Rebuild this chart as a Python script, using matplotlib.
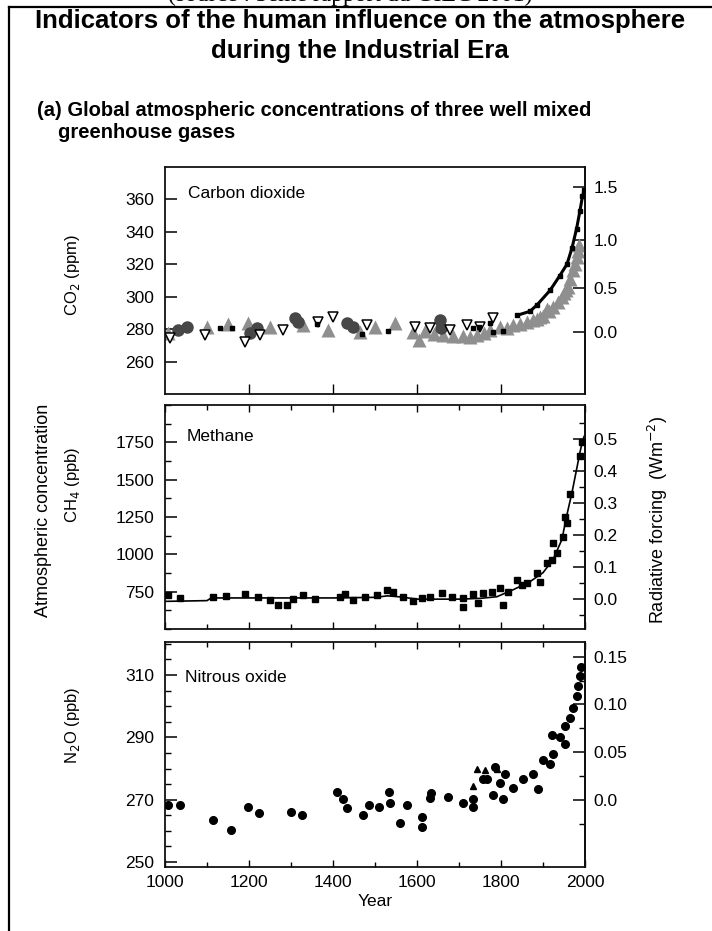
import matplotlib
matplotlib.use("Agg")
import matplotlib.pyplot as plt
import numpy as np
from matplotlib.lines import Line2D
from matplotlib.ticker import MultipleLocator, FixedLocator

plt.rcParams['font.family'] = ['Liberation Sans', 'DejaVu Sans']

# --- CO2 (ppm) ---
co2_tri_year = [1007, 1100, 1151, 1198, 1250, 1329, 1389, 1464, 1500, 1548, 1591, 1605,
                1620, 1640, 1662, 1686, 1710, 1725, 1743, 1760, 1774, 1798, 1815, 1829,
                1845, 1862, 1875, 1885, 1893, 1900, 1909, 1915, 1924, 1935, 1945, 1950,
                1955, 1960, 1965, 1971, 1975, 1980, 1983, 1986]
co2_tri_ppm = [277.8, 281.5, 283.3, 284.0, 281.5, 282.6, 279.6, 278.5, 281.5, 284.0, 278.5, 273.5,
               279.0, 277.0, 276.6, 275.5, 275.5, 275.0, 276.6, 277.5, 279.6, 281.5, 281.0, 282.6,
               283.0, 284.5, 285.5, 286.0, 287.3, 288.0, 292.7, 291.0, 293.7, 297.0, 300.0, 302.0,
               304.0, 306.0, 311.0, 316.4, 320.0, 324.4, 328.0, 331.8]
co2_circ_year = [1031, 1052, 1202, 1218, 1310, 1317, 1433, 1448, 1655, 1657]
co2_circ_ppm = [279.6, 281.5, 277.8, 280.9, 287.0, 284.5, 284.0, 281.5, 285.8, 280.9]
co2_open_year = [1012, 1095, 1190, 1226, 1281, 1364, 1400, 1480, 1595, 1631, 1679, 1719, 1750, 1781]
co2_open_ppm = [274.7, 276.6, 272.3, 276.6, 279.6, 284.5, 287.6, 282.6, 281.5, 280.9, 279.6, 282.6, 281.5, 287.0]
co2_dot_year = [1130, 1160, 1362, 1470, 1530, 1734, 1748, 1774, 1780, 1805]
co2_dot_ppm = [281.0, 281.0, 283.0, 277.0, 279.0, 280.9, 281.5, 284.0, 278.5, 279.0]
co2_line_year = [1838, 1869, 1886, 1917, 1940, 1957, 1969, 1980, 1988, 1994, 1998]
co2_line_ppm = [288.5, 291.0, 295.0, 304.0, 313.0, 320.0, 330.0, 342.0, 353.0, 362.0, 366.0]

# --- CH4 (ppb) ---
ch4_sq_year = [1007, 1036, 1114, 1145, 1190, 1222, 1250, 1269, 1290, 1305, 1329, 1357,
               1417, 1429, 1448, 1476, 1505, 1529, 1543, 1567, 1590, 1612, 1631, 1659,
               1683, 1710, 1710, 1733, 1745, 1757, 1779, 1798, 1805, 1817, 1838, 1850,
               1862, 1886, 1893, 1909, 1921, 1924, 1933, 1948, 1952, 1957, 1964, 1988, 1993]
ch4_sq_ppb = [730, 710, 716, 723, 737, 716, 696, 663, 663, 703, 730, 703,
              716, 737, 696, 716, 730, 763, 750, 716, 690, 710, 716, 743,
              716, 710, 649, 737, 676, 743, 750, 777, 663, 750, 830, 797,
              810, 877, 817, 945, 965, 1079, 1012, 1119, 1253, 1213, 1401, 1656, 1750]
ch4_line_year = [1000, 1100, 1110, 1400, 1500, 1530, 1560, 1600, 1700, 1750, 1790, 1829,
                 1869, 1900, 1924, 1945, 1956, 1969, 1980, 1988, 1994, 1998]
ch4_line_ppb = [685, 690, 708, 708, 712, 722, 715, 700, 700, 705, 716, 763,
                817, 877, 965, 1099, 1253, 1414, 1569, 1683, 1760, 1790]

# --- N2O (ppb) ---
n2o_year = [1007, 1036, 1114, 1157, 1198, 1224, 1300, 1327, 1409, 1424, 1434, 1471,
            1486, 1510, 1534, 1535, 1560, 1577, 1612, 1612, 1634, 1631, 1674, 1710,
            1733, 1733, 1757, 1781, 1798, 1805, 1810, 1767, 1786, 1829, 1852, 1876,
            1888, 1900, 1917, 1924, 1921, 1940, 1952, 1952, 1964, 1971, 1980, 1983,
            1988, 1990]
n2o_ppb = [268.4, 268.4, 263.4, 260.3, 267.5, 265.6, 265.9, 265.0, 272.5, 270.3, 267.2, 265.0,
           268.4, 267.5, 272.5, 269.0, 262.5, 268.4, 264.4, 261.3, 272.2, 270.6, 271.0, 269.0,
           270.3, 267.5, 276.6, 271.6, 275.3, 270.3, 278.1, 276.6, 280.6, 273.8, 276.6, 278.4,
           273.4, 282.8, 281.6, 284.7, 290.6, 290.0, 287.8, 293.8, 296.3, 299.4, 303.4, 306.6,
           309.7, 312.5]
n2o_tri_year = [1733, 1743, 1762, 1790]
n2o_tri_ppb = [274.4, 279.7, 279.5, 280.0]

W, H = 712, 931
fig = plt.figure(figsize=(W / 100, H / 100), dpi=100)


def box(top, bottom):
    return [165 / W, 1 - bottom / H, 420 / W, (bottom - top) / H]


ax1 = fig.add_axes(box(167, 394))
ax2 = fig.add_axes(box(405, 629))
ax3 = fig.add_axes(box(642, 867))

# CO2 panel
ax1.plot(co2_tri_year, co2_tri_ppm, '^', color='#8f8f8f', ms=10, mec='none', zorder=2)
ax1.plot(co2_circ_year, co2_circ_ppm, 'o', color='#474747', ms=9, mec='none', zorder=3)
ax1.plot(co2_open_year, co2_open_ppm, 'v', mfc='white', mec='black', ms=7.5, mew=1.1, zorder=4)
ax1.plot(co2_dot_year, co2_dot_ppm, 's', color='black', ms=2.5, zorder=5)
ax1.plot(co2_line_year, co2_line_ppm, '-', color='black', lw=2.2, zorder=5)
ax1.plot(co2_line_year, co2_line_ppm, 's', color='black', ms=3, zorder=5)
ax1.set_ylim(240, 380)
ax1.yaxis.set_major_locator(FixedLocator([260, 280, 300, 320, 340, 360]))
sec1 = ax1.secondary_yaxis('right', functions=(lambda c: 5.35 * np.log(np.clip(c, 1, None) / 278.0),
                                                lambda f: 278.0 * np.exp(f / 5.35)))
sec1.set_yticks([0.0, 0.5, 1.0, 1.5])
sec1.set_yticklabels(['0.0', '0.5', '1.0', '1.5'])

# CH4 panel
ax2.plot(ch4_line_year, ch4_line_ppb, '-', color='black', lw=1.2, zorder=2)
ax2.plot(ch4_sq_year, ch4_sq_ppb, 's', color='black', ms=5, zorder=3)
ax2.set_ylim(500, 2000)
ax2.yaxis.set_major_locator(FixedLocator([750, 1000, 1250, 1500, 1750]))
ax2.yaxis.set_minor_locator(MultipleLocator(125))
sec2 = ax2.secondary_yaxis('right', functions=(lambda m: (m - 700) / 2140.0,
                                                lambda f: 700 + 2140.0 * f))
sec2.set_yticks([0.0, 0.1, 0.2, 0.3, 0.4, 0.5])
sec2.set_yticklabels(['0.0', '0.1', '0.2', '0.3', '0.4', '0.5'])
sec2.yaxis.set_minor_locator(FixedLocator([-0.05, 0.05, 0.15, 0.25, 0.35, 0.45, 0.55]))

# N2O panel
ax3.plot(n2o_year, n2o_ppb, 'o', color='black', ms=5.5, zorder=3)
ax3.plot(n2o_tri_year, n2o_tri_ppb, '^', color='black', ms=5, zorder=3)
ax3.set_ylim(248.4, 320.6)
ax3.yaxis.set_major_locator(FixedLocator([250, 270, 290, 310]))
ax3.yaxis.set_minor_locator(MultipleLocator(5))
sec3 = ax3.secondary_yaxis('right', functions=(lambda n: (n - 270) * 0.00327,
                                                lambda f: 270 + f / 0.00327))
sec3.set_yticks([0.0, 0.05, 0.10, 0.15])
sec3.set_yticklabels(['0.0', '0.05', '0.10', '0.15'])
sec3.yaxis.set_minor_locator(FixedLocator([-0.025, 0.025, 0.075, 0.125]))

for ax in (ax1, ax2, ax3):
    ax.set_xlim(1000, 2000)
    for s in ax.spines.values():
        s.set_linewidth(1.3)
        s.set_color('#111111')
    ax.tick_params(axis='y', which='major', direction='in', length=8.5, width=1.1,
                   labelsize=12.5, pad=8, right=False)
    ax.tick_params(axis='y', which='minor', direction='in', length=4.5, width=1.0, right=False)
    ax.tick_params(axis='x', which='both', direction='in', width=1.0, labelsize=12.5)

for sec in (sec1, sec2, sec3):
    sec.spines['right'].set_linewidth(1.3)
    sec.tick_params(axis='y', which='major', direction='in', length=8.5, width=1.1,
                    labelsize=12.5, pad=6)
    sec.tick_params(axis='y', which='minor', direction='in', length=4.5, width=1.0)

ax1.xaxis.set_major_locator(FixedLocator([1200, 1400, 1600, 1800]))
ax1.tick_params(axis='x', length=7, labelbottom=False)

for ax in (ax2, ax3):
    ax.xaxis.set_major_locator(MultipleLocator(200))
    ax.xaxis.set_minor_locator(MultipleLocator(100))
    ax.tick_params(axis='x', which='major', length=5, top=True)
    ax.tick_params(axis='x', which='minor', length=3.5, top=True)
ax2.tick_params(axis='x', labelbottom=False)
ax3.tick_params(axis='x', which='major', pad=6)
ax3.set_xlabel('Year', fontsize=12.5, labelpad=3)

# panel names
ax1.text(0.055, 0.885, 'Carbon dioxide', transform=ax1.transAxes, fontsize=12.5, va='center')
ax2.text(0.052, 0.86, 'Methane', transform=ax2.transAxes, fontsize=12.5, va='center')
ax3.text(0.048, 0.84, 'Nitrous oxide', transform=ax3.transAxes, fontsize=12.5, va='center')

# y labels
fig.text(72 / W, 1 - 275 / H, 'CO$_2$ (ppm)', rotation=90, ha='center', va='center', fontsize=12)
fig.text(72 / W, 1 - 485 / H, 'CH$_4$ (ppb)', rotation=90, ha='center', va='center', fontsize=12)
fig.text(72 / W, 1 - 725 / H, 'N$_2$O (ppb)', rotation=90, ha='center', va='center', fontsize=12)
fig.text(44 / W, 1 - 510 / H, 'Atmospheric concentration', rotation=90, ha='center',
         va='center', fontsize=13)
fig.text(658 / W, 1 - 520 / H, 'Radiative forcing  (Wm$^{-2}$)', rotation=90, ha='center',
         va='center', fontsize=13)

# titles
fig.text(360 / W, 1 - 21 / H, 'Indicators of the human influence on the atmosphere',
         ha='center', va='center', fontsize=18.5, fontweight='bold')
fig.text(360 / W, 1 - 51 / H, 'during the Industrial Era', ha='center', va='center',
         fontsize=18.5, fontweight='bold')
fig.text(37 / W, 1 - 110 / H, '(a) Global atmospheric concentrations of three well mixed',
         ha='left', va='center', fontsize=14.5, fontweight='bold')
fig.text(58 / W, 1 - 132 / H, 'greenhouse gases', ha='left', va='center', fontsize=14.5,
         fontweight='bold')

# source line, clipped at the very top as in the scan
fig.text(350 / W, 1 - 1.5 / H, '(source : 3ème rapport du GIEC 2001)', ha='center',
         va='baseline', fontsize=17, family='Liberation Serif')

# frame
fig.add_artist(Line2D([9 / W, 1.0], [1 - 7 / H, 1 - 7 / H], transform=fig.transFigure,
                      color='black', lw=1.6))
fig.add_artist(Line2D([9 / W, 9 / W], [0.0, 1 - 7 / H], transform=fig.transFigure,
                      color='black', lw=1.6))

fig.savefig('out.png', dpi=100)
